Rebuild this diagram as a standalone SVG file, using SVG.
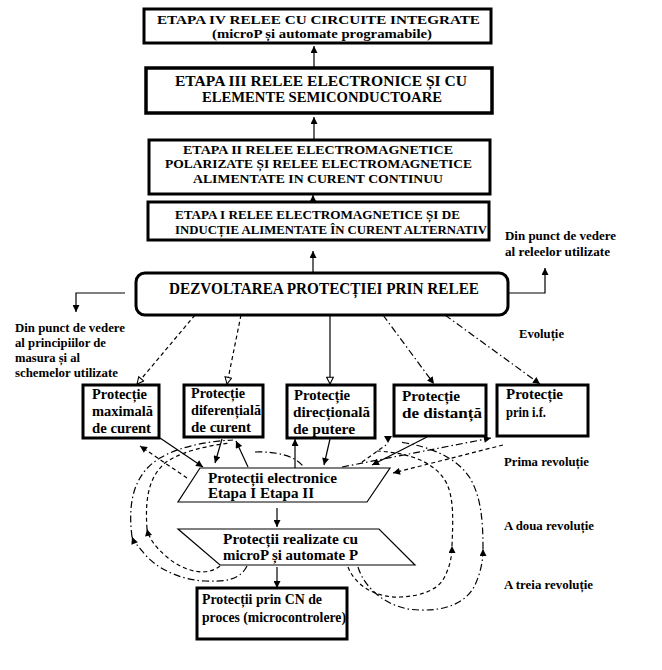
<svg xmlns="http://www.w3.org/2000/svg" width="662" height="670" viewBox="0 0 662 670">
<style>
text{font-family:'Liberation Serif','DejaVu Serif',serif;font-weight:bold;fill:#000}
.box{fill:#fff;stroke:#000;stroke-width:3}
.para{fill:#fff;stroke:#000;stroke-width:1.2}
.c{fill:none;stroke:#000;stroke-width:1.2}
.dash{stroke-dasharray:4 3}
.dd{stroke-dasharray:7 3 1.5 3}
.lbl{font-size:12.5px}
.pt{font-size:15.5px}
</style>
<defs>
<marker id="ah" viewBox="0 0 10 10" refX="10" refY="5" markerWidth="8" markerHeight="7" markerUnits="userSpaceOnUse" orient="auto"><path d="M0,0 L10,5 L0,10 z" fill="#000" stroke="none"/></marker>
<marker id="aho" viewBox="0 0 12 12" refX="11" refY="6" markerWidth="9" markerHeight="8" markerUnits="userSpaceOnUse" orient="auto"><path d="M1,1 L11,6 L1,11 z" fill="#fff" stroke="#000" stroke-width="1.6" stroke-dasharray="none"/></marker>
</defs>
<rect width="662" height="670" fill="#fff"/>

<g id="connectors">
<line class="c" x1="314" y1="68" x2="314" y2="46" marker-end="url(#ah)"/>
<line class="c" x1="314" y1="140" x2="314" y2="117" marker-end="url(#ah)"/>
<line class="c" x1="313" y1="202" x2="313" y2="195" marker-end="url(#ah)"/>
<line class="c" x1="313" y1="273" x2="313" y2="251" marker-end="url(#ah)"/>
<polyline class="c" points="125,293 76,293 76,312" marker-end="url(#ah)"/>
<polyline class="c" points="508,293 545,293 545,268" marker-end="url(#ah)"/>
<line class="c dash" x1="195" y1="315" x2="137" y2="384" marker-end="url(#aho)"/>
<line class="c dash" x1="241" y1="315" x2="227" y2="384" marker-end="url(#aho)"/>
<line class="c" x1="330" y1="315" x2="330" y2="384" marker-end="url(#aho)"/>
<line class="c dd" x1="383" y1="315" x2="434" y2="384" marker-end="url(#ah)"/>
<line class="c dd" x1="445" y1="315" x2="540" y2="384" marker-end="url(#ah)"/>

<line class="c" x1="160" y1="438" x2="203" y2="467" marker-end="url(#ah)"/>
<line class="c dash" x1="187" y1="478" x2="140" y2="446" marker-end="url(#ah)"/>
<line class="c" x1="222" y1="439" x2="215" y2="463" marker-end="url(#ah)"/>
<line class="c" x1="248" y1="467" x2="236" y2="441" marker-end="url(#ah)"/>
<path class="c dd" d="M255,452 Q290,451 303,466"/>
<line class="c" x1="295" y1="468" x2="295" y2="439" marker-end="url(#ah)"/>
<line class="c" x1="330" y1="439" x2="324" y2="465" marker-end="url(#ah)"/>
<line class="c" x1="427" y1="437" x2="372" y2="465" marker-end="url(#ah)"/>
<line class="c dd" x1="342" y1="467" x2="491" y2="438" marker-end="url(#ah)"/>
<line class="c dash" x1="362" y1="462" x2="386" y2="445"/>
<polygon points="384,436 392,436 388,443" fill="#000"/>
<line class="c dash" x1="503" y1="445" x2="393" y2="473" marker-end="url(#ah)"/>

<path class="c dd" d="M247,566 C240,580 225,582 205,581 C180,580 155,568 143,552 C138,546 134,542 132,537" marker-end="url(#ah)"/>
<path class="c dd" d="M132,537 C128,505 132,475 160,458 C180,446 210,441 233,440"/>
<path class="c dash" d="M220,566 C205,578 182,570 167,557 C155,547 149,538 147,529" marker-end="url(#ah)"/>
<path class="c dash" d="M147,529 C145,500 148,478 165,463 C180,452 205,446 230,443"/>
<path class="c dash" d="M348,567 C355,585 375,598 400,597 C425,596 440,588 445,576 C450,566 452,556 452,546" marker-end="url(#ah)"/>
<path class="c dash" d="M452,546 C453,520 454,500 447,484 C436,462 410,453 377,451"/>
<path class="c dd" d="M358,567 C365,590 390,610 420,610 C450,611 468,600 475,585 C481,572 483,560 483,549" marker-end="url(#ah)"/>
<path class="c dd" d="M483,549 C483,520 481,497 470,478 C457,458 432,447 400,442"/>

<line class="c" x1="277" y1="508" x2="277" y2="527" marker-end="url(#ah)"/>
<line class="c" x1="277" y1="567" x2="277" y2="588" marker-end="url(#ah)"/>
</g>

<g id="etapa4">
<rect class="box" x="144" y="9" width="347" height="34"/>
<text x="157" y="24" font-size="12.5" textLength="323" lengthAdjust="spacingAndGlyphs">ETAPA IV RELEE CU CIRCUITE INTEGRATE</text>
<text x="212" y="38" font-size="12.5" textLength="220" lengthAdjust="spacingAndGlyphs">(microP și automate programabile)</text>
</g>
<g id="etapa3">
<rect class="box" x="146" y="68" width="346" height="45" style="stroke-width:3.5"/>
<text x="175" y="86" font-size="14" textLength="292" lengthAdjust="spacingAndGlyphs">ETAPA III RELEE ELECTRONICE ȘI CU</text>
<text x="202" y="102" font-size="14" textLength="240" lengthAdjust="spacingAndGlyphs">ELEMENTE SEMICONDUCTOARE</text>
</g>
<g id="etapa2">
<rect class="box" x="149" y="140" width="341" height="54"/>
<text x="183" y="154" font-size="13" textLength="270" lengthAdjust="spacingAndGlyphs">ETAPA II RELEE ELECTROMAGNETICE</text>
<text x="165" y="168" font-size="13" textLength="307" lengthAdjust="spacingAndGlyphs">POLARIZATE ȘI RELEE ELECTROMAGNETICE</text>
<text x="193" y="183" font-size="13" textLength="250" lengthAdjust="spacingAndGlyphs">ALIMENTATE IN CURENT CONTINUU</text>
</g>
<g id="etapa1">
<rect class="box" x="148" y="202" width="341" height="38"/>
<text x="175" y="219" font-size="13" textLength="285" lengthAdjust="spacingAndGlyphs">ETAPA I RELEE ELECTROMAGNETICE ȘI DE</text>
<text x="175" y="234" font-size="13" textLength="312" lengthAdjust="spacingAndGlyphs">INDUCȚIE ALIMENTATE ÎN CURENT ALTERNATIV</text>
</g>
<g id="dezvoltarea">
<rect class="box" x="136" y="273" width="372" height="42" rx="9" ry="9"/>
<text x="169" y="294" font-size="16" textLength="310" lengthAdjust="spacingAndGlyphs">DEZVOLTAREA PROTECȚIEI PRIN RELEE</text>
</g>

<g id="label-relee">
<text class="lbl" x="505" y="240" textLength="111" lengthAdjust="spacingAndGlyphs">Din punct de vedere</text>
<text class="lbl" x="505" y="256" textLength="105" lengthAdjust="spacingAndGlyphs">al releelor utilizate</text>
</g>
<g id="label-principii">
<text class="lbl" x="15" y="332" textLength="110" lengthAdjust="spacingAndGlyphs">Din punct de vedere</text>
<text class="lbl" x="15" y="347" textLength="91" lengthAdjust="spacingAndGlyphs">al principiilor de</text>
<text class="lbl" x="15" y="362" textLength="65" lengthAdjust="spacingAndGlyphs">masura și al</text>
<text class="lbl" x="15" y="377" textLength="103" lengthAdjust="spacingAndGlyphs">schemelor utilizate</text>
</g>
<g id="label-evolutie">
<text class="lbl" x="519" y="338" textLength="45" lengthAdjust="spacingAndGlyphs">Evoluție</text>
</g>

<g id="prot-maximala">
<rect class="box" x="83" y="385" width="76" height="53"/>
<text class="pt" x="92" y="399" textLength="55" lengthAdjust="spacingAndGlyphs">Protecție</text>
<text class="pt" x="92" y="416" textLength="61" lengthAdjust="spacingAndGlyphs">maximală</text>
<text class="pt" x="92" y="433" textLength="59" lengthAdjust="spacingAndGlyphs">de curent</text>
</g>
<g id="prot-diferentiala">
<rect class="box" x="184" y="385" width="79" height="52"/>
<text class="pt" x="191" y="398" textLength="54" lengthAdjust="spacingAndGlyphs">Protecție</text>
<text class="pt" x="191" y="415" textLength="70" lengthAdjust="spacingAndGlyphs">diferențială</text>
<text class="pt" x="191" y="432" textLength="60" lengthAdjust="spacingAndGlyphs">de curent</text>
</g>
<g id="prot-directionala">
<rect class="box" x="287" y="385" width="88" height="53"/>
<text class="pt" x="294" y="400" textLength="56" lengthAdjust="spacingAndGlyphs">Protecție</text>
<text class="pt" x="293" y="417" textLength="77" lengthAdjust="spacingAndGlyphs">direcțională</text>
<text class="pt" x="293" y="434" textLength="62" lengthAdjust="spacingAndGlyphs">de putere</text>
</g>
<g id="prot-distanta">
<rect class="box" x="394" y="385" width="92" height="51"/>
<text class="pt" x="402" y="401" textLength="58" lengthAdjust="spacingAndGlyphs">Protecție</text>
<text class="pt" x="402" y="418" textLength="80" lengthAdjust="spacingAndGlyphs">de distanță</text>
</g>
<g id="prot-if">
<rect class="box" x="497" y="385" width="91" height="51"/>
<text class="pt" x="506" y="399" textLength="57" lengthAdjust="spacingAndGlyphs">Protecție</text>
<text class="pt" x="506" y="417" textLength="40" lengthAdjust="spacingAndGlyphs">prin i.f.</text>
</g>

<g id="electronice">
<polygon class="para" points="200,468 390,468 367,502 178,502"/>
<text x="208" y="483" font-size="15" textLength="129" lengthAdjust="spacingAndGlyphs">Protecții electronice</text>
<text x="208" y="498" font-size="15" textLength="106" lengthAdjust="spacingAndGlyphs">Etapa I Etapa II</text>
</g>
<g id="microp">
<polygon class="para" points="178,529 379,529 415,565 220,565"/>
<text x="223" y="544" font-size="15" textLength="135" lengthAdjust="spacingAndGlyphs">Protecții realizate cu</text>
<text x="223" y="560" font-size="15" textLength="135" lengthAdjust="spacingAndGlyphs">microP și automate P</text>
</g>
<g id="cn">
<rect class="box" x="197" y="588" width="150" height="51"/>
<text x="202" y="604" font-size="14.5" textLength="120" lengthAdjust="spacingAndGlyphs">Protecții prin CN de</text>
<text x="202" y="622" font-size="14.5" textLength="144" lengthAdjust="spacingAndGlyphs">proces (microcontrolere)</text>
</g>

<g id="revolutii">
<text class="lbl" x="504" y="466" textLength="85" lengthAdjust="spacingAndGlyphs">Prima revoluție</text>
<text class="lbl" x="504" y="530" textLength="90" lengthAdjust="spacingAndGlyphs">A doua revoluție</text>
<text class="lbl" x="504" y="589" textLength="89" lengthAdjust="spacingAndGlyphs">A treia revoluție</text>
</g>
</svg>
